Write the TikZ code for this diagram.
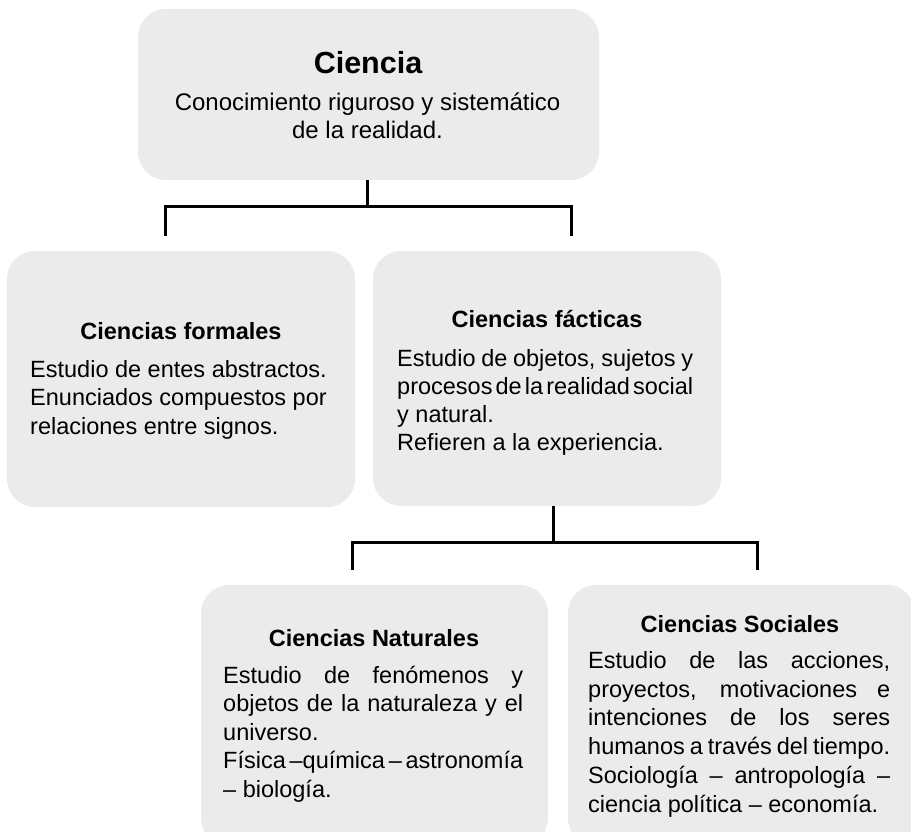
\documentclass[tikz,border=0pt]{standalone}
\usepackage{fontspec}
\setmainfont{Liberation Sans}
\definecolor{boxgray}{HTML}{EBEBEB}
\newcommand{\bodyfont}[2]{\fontsize{#1}{#2}\selectfont\lineskiplimit=-40pt\lineskip=0pt\spaceskip=0.278em plus 1em minus 0.2em\relax}
\newcommand{\jl}[2]{\makebox[#1][s]{#2}}
\newcommand{\firstline}{\rule{0pt}{24pt}}
\tikzset{
  box/.style={rectangle, fill=boxgray, draw=none, rounded corners=28pt, inner sep=0pt, outer sep=0pt},
  link/.style={line width=3pt, draw=black, line join=miter},
  ttl/.style={inner sep=0pt, anchor=base, font=\bfseries\fontsize{23.5}{28}\selectfont},
  bigttl/.style={inner sep=0pt, anchor=base, font=\bfseries\fontsize{30.5}{34}\selectfont},
  body/.style={inner sep=0pt, anchor=north west, align=flush left, text width=#1},
}
\begin{document}
\begin{tikzpicture}[x=1pt,y=-1pt]
\useasboundingbox (0,0) rectangle (911,832);
% boxes
\node[box, minimum width=461pt, minimum height=171pt] (ciencia) at (368.5,94.5) {};
\node[box, minimum width=348pt, minimum height=256pt] (formales) at (181,379) {};
\node[box, minimum width=348pt, minimum height=255pt] (facticas) at (547,378.5) {};
\node[box, minimum width=347pt, minimum height=261pt] (naturales) at (374.5,715.5) {};
\node[box, minimum width=347pt, minimum height=261pt] (sociales) at (741.5,715.5) {};
% titles
\node[bigttl] (t0) at (368,74) {Ciencia};
\node[ttl] (t1) at (181,339) {Ciencias formales};
\node[ttl] (t2) at (547,327) {Ciencias fácticas};
\node[ttl] (t3) at (374,646) {Ciencias Naturales};
\node[ttl] (t4) at (740,632) {Ciencias Sociales};
% bodies
\node[body=450pt, align=flush center, anchor=north] (d0) at (367.5,86)
  {\bodyfont{24}{28}\firstline Conocimiento riguroso y sistemático\\de la realidad.\par};
\node[body=320pt] (d1) at (30,353)
  {\bodyfont{23.5}{28.5}\firstline Estudio de entes abstractos.\\Enunciados compuestos por\\relaciones entre signos.\par};
\node[body=310pt] (d2) at (397,342)
  {\bodyfont{23.5}{28}\firstline\jl{296pt}{Estudio de objetos, sujetos y}\\\jl{296pt}{procesos de la realidad social}\\y natural.\\Refieren a la experiencia.\par};
\node[body=310pt] (d3) at (223,659)
  {\bodyfont{23.5}{28.5}\firstline\jl{300pt}{Estudio de fenómenos y}\\\jl{300pt}{objetos de la naturaleza y el}\\universo.\\\jl{300pt}{Física –química – astronomía}\\– biología.\par};
\node[body=310pt] (d4) at (588,644)
  {\bodyfont{23.5}{28.8}\firstline\jl{302pt}{Estudio de las acciones,}\\\jl{302pt}{proyectos, motivaciones e}\\\jl{302pt}{intenciones de los seres}\\\jl{302pt}{humanos a través del tiempo.}\\\jl{302pt}{Sociología – antropología –}\\ciencia política – economía.\par};
% connectors
\coordinate (ja) at (367,207);
\coordinate (jl) at (165,236);
\coordinate (jr) at (571,236);
\draw[link] (ciencia.south -| ja) -- (ja);
\draw[link] (jl) |- (ja) -| (jr);
\coordinate (jb) at (553,542);
\coordinate (jbl) at (352,570);
\coordinate (jbr) at (757,570);
\draw[link] (facticas.south -| jb) -- (jb);
\draw[link] (jbl) |- (jb) -| (jbr);
\end{tikzpicture}
\end{document}
